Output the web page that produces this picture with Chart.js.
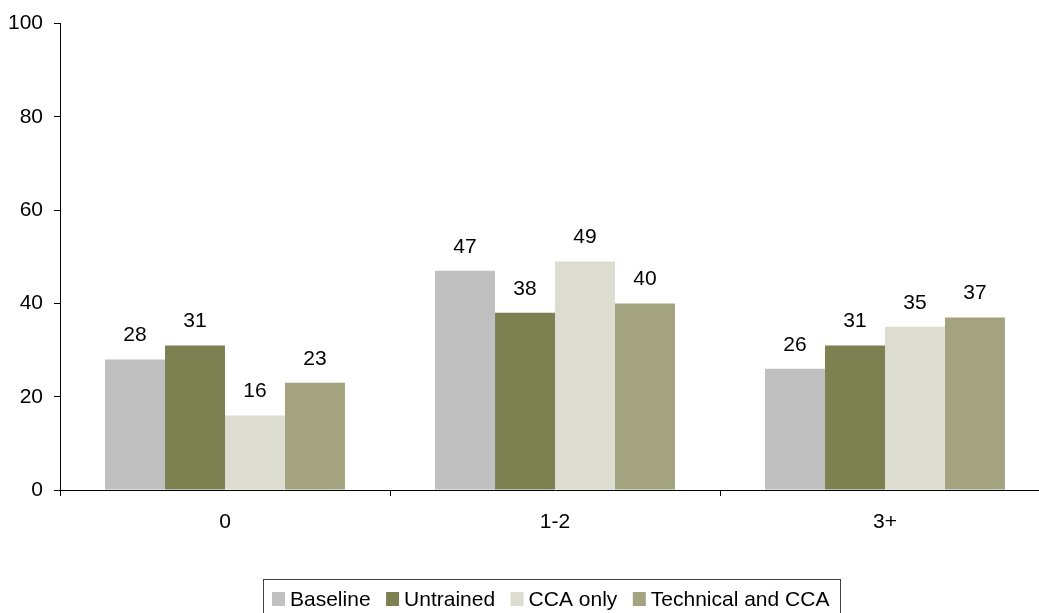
<!DOCTYPE html>
<html>
<head>
<meta charset="utf-8">
<script src="https://cdn.jsdelivr.net/npm/chart.js@4/dist/chart.umd.min.js"></script>
<style>
  html, body { margin: 0; padding: 0; background: #fff; overflow: hidden; }
  #wrap { position: absolute; left: 0; top: 0; }
</style>
</head>
<body>
<div id="wrap"><canvas id="trainingChart" width="1060" height="613"></canvas></div>
<script>
// Categories and series
const categories = ['0', '1-2', '3+'];
const baseline = [28, 47, 26];
const untrained = [31, 38, 31];
const ccaOnly = [16, 49, 35];
const technicalCca = [23, 40, 37];

const seriesNames = ['Baseline', 'Untrained', 'CCA only', 'Technical and CCA'];
const seriesColors = ['#c0c0c0', '#7d8050', '#dddcd0', '#a3a380'];

const FONT = '"Liberation Sans", Arial, sans-serif';

// Value labels above each bar
const valueLabels = {
    id: 'valueLabels',
    afterDatasetsDraw(chart) {
        const ctx = chart.ctx;
        ctx.save();
        ctx.font = '21px ' + FONT;
        ctx.fillStyle = '#000';
        ctx.textAlign = 'center';
        ctx.textBaseline = 'alphabetic';
        chart.data.datasets.forEach((ds, i) => {
            chart.getDatasetMeta(i).data.forEach((bar, j) => {
                ctx.fillText(String(ds.data[j]), bar.x, bar.y - 18);
            });
        });
        ctx.restore();
    }
};

// Boxed legend under the chart
const boxedLegend = {
    id: 'boxedLegend',
    afterDraw(chart) {
        const ctx = chart.ctx;
        const boxW = 13, boxH = 14, gap = 5, spacing = 15.5;
        const cy = 599;
        let x = 272;
        ctx.save();
        ctx.font = '21px ' + FONT;

        ctx.strokeStyle = '#404040';
        ctx.lineWidth = 1;
        ctx.strokeRect(263.5, 579.5, 577, 40);

        ctx.textBaseline = 'middle';
        ctx.textAlign = 'left';
        chart.data.datasets.forEach(ds => {
            ctx.fillStyle = ds.backgroundColor;
            ctx.fillRect(x, cy - boxH / 2, boxW, boxH);
            ctx.fillStyle = '#000';
            ctx.fillText(ds.label, x + boxW + gap, cy + 1);
            x += boxW + gap + ctx.measureText(ds.label).width + spacing;
        });
        ctx.restore();
    }
};

const seriesData = [baseline, untrained, ccaOnly, technicalCca];

new Chart(document.getElementById('trainingChart').getContext('2d'), {
    type: 'bar',
    data: {
        labels: categories,
        datasets: seriesData.map((d, i) => ({
            label: seriesNames[i],
            data: d,
            backgroundColor: seriesColors[i],
            borderWidth: 0,
            categoryPercentage: 0.727,
            barPercentage: 1.0
        }))
    },
    options: {
        responsive: false,
        animation: false,
        layout: { padding: { top: 23, right: 10, left: 0, bottom: 0 } },
        plugins: {
            legend: { display: false },
            tooltip: { enabled: false }
        },
        scales: {
            x: {
                grid: { drawOnChartArea: false, offset: true, color: '#000', tickLength: 6, tickWidth: 1 },
                border: { color: '#000', width: 1 },
                ticks: { color: '#000', font: { family: FONT, size: 21 }, padding: 14 },
                afterFit(scale) { scale.height = 123; }
            },
            y: {
                min: 0,
                max: 100,
                grid: { drawOnChartArea: false, color: '#000', tickLength: 6, tickWidth: 1 },
                border: { color: '#000', width: 1 },
                ticks: { stepSize: 20, color: '#000', font: { family: FONT, size: 21 }, padding: 11 },
                afterFit(scale) { scale.width = 60; }
            }
        }
    },
    plugins: [valueLabels, boxedLegend]
});
</script>
</body>
</html>
